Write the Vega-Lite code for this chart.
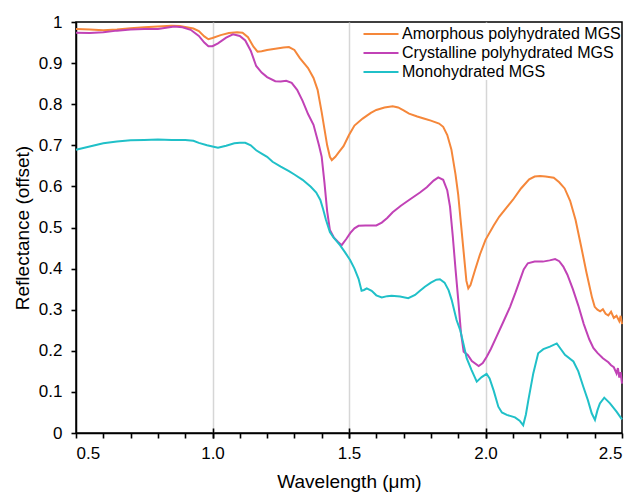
{
  "$schema": "https://vega.github.io/schema/vega-lite/v6.json",
  "width": 546,
  "height": 411,
  "autosize": "none",
  "padding": {"left": 76, "top": 22, "right": 21, "bottom": 61},
  "config": {
    "font": "Liberation Sans",
    "view": {"stroke": "black", "strokeWidth": 1.5},
    "axis": {
      "labelFont": "Liberation Sans",
      "titleFont": "Liberation Sans",
      "labelColor": "black",
      "titleColor": "black",
      "tickColor": "black",
      "domainColor": "black",
      "labelFontSize": 17,
      "titleFontSize": 19,
      "titleFontWeight": "normal"
    }
  },
  "data": {
    "values": [
      {"s":"Amorphous polyhydrated MGS","w":0.5,"r":0.983},
      {"s":"Amorphous polyhydrated MGS","w":0.55,"r":0.982},
      {"s":"Amorphous polyhydrated MGS","w":0.6,"r":0.98},
      {"s":"Amorphous polyhydrated MGS","w":0.65,"r":0.982},
      {"s":"Amorphous polyhydrated MGS","w":0.7,"r":0.985},
      {"s":"Amorphous polyhydrated MGS","w":0.75,"r":0.987},
      {"s":"Amorphous polyhydrated MGS","w":0.8,"r":0.989},
      {"s":"Amorphous polyhydrated MGS","w":0.85,"r":0.991},
      {"s":"Amorphous polyhydrated MGS","w":0.88,"r":0.99},
      {"s":"Amorphous polyhydrated MGS","w":0.9,"r":0.988},
      {"s":"Amorphous polyhydrated MGS","w":0.93,"r":0.984},
      {"s":"Amorphous polyhydrated MGS","w":0.95,"r":0.978},
      {"s":"Amorphous polyhydrated MGS","w":0.97,"r":0.965},
      {"s":"Amorphous polyhydrated MGS","w":0.985,"r":0.958},
      {"s":"Amorphous polyhydrated MGS","w":1.0,"r":0.961},
      {"s":"Amorphous polyhydrated MGS","w":1.03,"r":0.968},
      {"s":"Amorphous polyhydrated MGS","w":1.06,"r":0.973},
      {"s":"Amorphous polyhydrated MGS","w":1.09,"r":0.975},
      {"s":"Amorphous polyhydrated MGS","w":1.11,"r":0.974},
      {"s":"Amorphous polyhydrated MGS","w":1.13,"r":0.963},
      {"s":"Amorphous polyhydrated MGS","w":1.15,"r":0.94},
      {"s":"Amorphous polyhydrated MGS","w":1.165,"r":0.928},
      {"s":"Amorphous polyhydrated MGS","w":1.18,"r":0.929},
      {"s":"Amorphous polyhydrated MGS","w":1.2,"r":0.932},
      {"s":"Amorphous polyhydrated MGS","w":1.23,"r":0.935},
      {"s":"Amorphous polyhydrated MGS","w":1.26,"r":0.938},
      {"s":"Amorphous polyhydrated MGS","w":1.28,"r":0.939},
      {"s":"Amorphous polyhydrated MGS","w":1.3,"r":0.932},
      {"s":"Amorphous polyhydrated MGS","w":1.32,"r":0.912},
      {"s":"Amorphous polyhydrated MGS","w":1.35,"r":0.888},
      {"s":"Amorphous polyhydrated MGS","w":1.37,"r":0.864},
      {"s":"Amorphous polyhydrated MGS","w":1.385,"r":0.835},
      {"s":"Amorphous polyhydrated MGS","w":1.4,"r":0.78},
      {"s":"Amorphous polyhydrated MGS","w":1.41,"r":0.74},
      {"s":"Amorphous polyhydrated MGS","w":1.42,"r":0.7},
      {"s":"Amorphous polyhydrated MGS","w":1.43,"r":0.672},
      {"s":"Amorphous polyhydrated MGS","w":1.437,"r":0.664},
      {"s":"Amorphous polyhydrated MGS","w":1.45,"r":0.672},
      {"s":"Amorphous polyhydrated MGS","w":1.465,"r":0.685},
      {"s":"Amorphous polyhydrated MGS","w":1.48,"r":0.698},
      {"s":"Amorphous polyhydrated MGS","w":1.5,"r":0.725},
      {"s":"Amorphous polyhydrated MGS","w":1.52,"r":0.748},
      {"s":"Amorphous polyhydrated MGS","w":1.55,"r":0.765},
      {"s":"Amorphous polyhydrated MGS","w":1.58,"r":0.779},
      {"s":"Amorphous polyhydrated MGS","w":1.6,"r":0.786},
      {"s":"Amorphous polyhydrated MGS","w":1.63,"r":0.792},
      {"s":"Amorphous polyhydrated MGS","w":1.66,"r":0.795},
      {"s":"Amorphous polyhydrated MGS","w":1.68,"r":0.792},
      {"s":"Amorphous polyhydrated MGS","w":1.7,"r":0.785},
      {"s":"Amorphous polyhydrated MGS","w":1.72,"r":0.777},
      {"s":"Amorphous polyhydrated MGS","w":1.75,"r":0.77},
      {"s":"Amorphous polyhydrated MGS","w":1.78,"r":0.764},
      {"s":"Amorphous polyhydrated MGS","w":1.8,"r":0.76},
      {"s":"Amorphous polyhydrated MGS","w":1.83,"r":0.753},
      {"s":"Amorphous polyhydrated MGS","w":1.845,"r":0.745},
      {"s":"Amorphous polyhydrated MGS","w":1.86,"r":0.725},
      {"s":"Amorphous polyhydrated MGS","w":1.875,"r":0.69},
      {"s":"Amorphous polyhydrated MGS","w":1.89,"r":0.63},
      {"s":"Amorphous polyhydrated MGS","w":1.9,"r":0.58},
      {"s":"Amorphous polyhydrated MGS","w":1.91,"r":0.51},
      {"s":"Amorphous polyhydrated MGS","w":1.92,"r":0.44},
      {"s":"Amorphous polyhydrated MGS","w":1.93,"r":0.37},
      {"s":"Amorphous polyhydrated MGS","w":1.937,"r":0.352},
      {"s":"Amorphous polyhydrated MGS","w":1.945,"r":0.36},
      {"s":"Amorphous polyhydrated MGS","w":1.962,"r":0.397},
      {"s":"Amorphous polyhydrated MGS","w":1.98,"r":0.435},
      {"s":"Amorphous polyhydrated MGS","w":2.0,"r":0.47},
      {"s":"Amorphous polyhydrated MGS","w":2.03,"r":0.505},
      {"s":"Amorphous polyhydrated MGS","w":2.05,"r":0.526},
      {"s":"Amorphous polyhydrated MGS","w":2.08,"r":0.551},
      {"s":"Amorphous polyhydrated MGS","w":2.1,"r":0.567},
      {"s":"Amorphous polyhydrated MGS","w":2.13,"r":0.595},
      {"s":"Amorphous polyhydrated MGS","w":2.16,"r":0.617},
      {"s":"Amorphous polyhydrated MGS","w":2.18,"r":0.624},
      {"s":"Amorphous polyhydrated MGS","w":2.2,"r":0.625},
      {"s":"Amorphous polyhydrated MGS","w":2.22,"r":0.624},
      {"s":"Amorphous polyhydrated MGS","w":2.25,"r":0.621},
      {"s":"Amorphous polyhydrated MGS","w":2.27,"r":0.61},
      {"s":"Amorphous polyhydrated MGS","w":2.29,"r":0.595},
      {"s":"Amorphous polyhydrated MGS","w":2.31,"r":0.565},
      {"s":"Amorphous polyhydrated MGS","w":2.33,"r":0.518},
      {"s":"Amorphous polyhydrated MGS","w":2.35,"r":0.455},
      {"s":"Amorphous polyhydrated MGS","w":2.37,"r":0.39},
      {"s":"Amorphous polyhydrated MGS","w":2.39,"r":0.33},
      {"s":"Amorphous polyhydrated MGS","w":2.4,"r":0.307},
      {"s":"Amorphous polyhydrated MGS","w":2.41,"r":0.3},
      {"s":"Amorphous polyhydrated MGS","w":2.42,"r":0.296},
      {"s":"Amorphous polyhydrated MGS","w":2.43,"r":0.301},
      {"s":"Amorphous polyhydrated MGS","w":2.44,"r":0.29},
      {"s":"Amorphous polyhydrated MGS","w":2.45,"r":0.286},
      {"s":"Amorphous polyhydrated MGS","w":2.46,"r":0.295},
      {"s":"Amorphous polyhydrated MGS","w":2.47,"r":0.28},
      {"s":"Amorphous polyhydrated MGS","w":2.48,"r":0.285},
      {"s":"Amorphous polyhydrated MGS","w":2.49,"r":0.272},
      {"s":"Amorphous polyhydrated MGS","w":2.495,"r":0.285},
      {"s":"Amorphous polyhydrated MGS","w":2.5,"r":0.265},
      {"s":"Crystalline polyhydrated MGS","w":0.5,"r":0.974},
      {"s":"Crystalline polyhydrated MGS","w":0.55,"r":0.973},
      {"s":"Crystalline polyhydrated MGS","w":0.6,"r":0.975},
      {"s":"Crystalline polyhydrated MGS","w":0.65,"r":0.979},
      {"s":"Crystalline polyhydrated MGS","w":0.7,"r":0.982},
      {"s":"Crystalline polyhydrated MGS","w":0.75,"r":0.983},
      {"s":"Crystalline polyhydrated MGS","w":0.8,"r":0.983},
      {"s":"Crystalline polyhydrated MGS","w":0.83,"r":0.986},
      {"s":"Crystalline polyhydrated MGS","w":0.86,"r":0.989},
      {"s":"Crystalline polyhydrated MGS","w":0.89,"r":0.987},
      {"s":"Crystalline polyhydrated MGS","w":0.92,"r":0.981},
      {"s":"Crystalline polyhydrated MGS","w":0.95,"r":0.966},
      {"s":"Crystalline polyhydrated MGS","w":0.97,"r":0.95},
      {"s":"Crystalline polyhydrated MGS","w":0.985,"r":0.941},
      {"s":"Crystalline polyhydrated MGS","w":1.0,"r":0.941},
      {"s":"Crystalline polyhydrated MGS","w":1.02,"r":0.948},
      {"s":"Crystalline polyhydrated MGS","w":1.05,"r":0.962},
      {"s":"Crystalline polyhydrated MGS","w":1.075,"r":0.97},
      {"s":"Crystalline polyhydrated MGS","w":1.1,"r":0.966},
      {"s":"Crystalline polyhydrated MGS","w":1.12,"r":0.955},
      {"s":"Crystalline polyhydrated MGS","w":1.14,"r":0.93},
      {"s":"Crystalline polyhydrated MGS","w":1.16,"r":0.893},
      {"s":"Crystalline polyhydrated MGS","w":1.18,"r":0.877},
      {"s":"Crystalline polyhydrated MGS","w":1.2,"r":0.866},
      {"s":"Crystalline polyhydrated MGS","w":1.23,"r":0.856},
      {"s":"Crystalline polyhydrated MGS","w":1.25,"r":0.855},
      {"s":"Crystalline polyhydrated MGS","w":1.27,"r":0.857},
      {"s":"Crystalline polyhydrated MGS","w":1.29,"r":0.852},
      {"s":"Crystalline polyhydrated MGS","w":1.31,"r":0.835},
      {"s":"Crystalline polyhydrated MGS","w":1.33,"r":0.808},
      {"s":"Crystalline polyhydrated MGS","w":1.35,"r":0.776},
      {"s":"Crystalline polyhydrated MGS","w":1.37,"r":0.75},
      {"s":"Crystalline polyhydrated MGS","w":1.39,"r":0.7},
      {"s":"Crystalline polyhydrated MGS","w":1.4,"r":0.672},
      {"s":"Crystalline polyhydrated MGS","w":1.41,"r":0.61},
      {"s":"Crystalline polyhydrated MGS","w":1.42,"r":0.54},
      {"s":"Crystalline polyhydrated MGS","w":1.43,"r":0.494},
      {"s":"Crystalline polyhydrated MGS","w":1.445,"r":0.475},
      {"s":"Crystalline polyhydrated MGS","w":1.46,"r":0.465},
      {"s":"Crystalline polyhydrated MGS","w":1.473,"r":0.457},
      {"s":"Crystalline polyhydrated MGS","w":1.49,"r":0.472},
      {"s":"Crystalline polyhydrated MGS","w":1.505,"r":0.487},
      {"s":"Crystalline polyhydrated MGS","w":1.52,"r":0.498},
      {"s":"Crystalline polyhydrated MGS","w":1.535,"r":0.504},
      {"s":"Crystalline polyhydrated MGS","w":1.56,"r":0.505},
      {"s":"Crystalline polyhydrated MGS","w":1.6,"r":0.505},
      {"s":"Crystalline polyhydrated MGS","w":1.62,"r":0.512},
      {"s":"Crystalline polyhydrated MGS","w":1.64,"r":0.523},
      {"s":"Crystalline polyhydrated MGS","w":1.66,"r":0.537},
      {"s":"Crystalline polyhydrated MGS","w":1.69,"r":0.553},
      {"s":"Crystalline polyhydrated MGS","w":1.72,"r":0.567},
      {"s":"Crystalline polyhydrated MGS","w":1.74,"r":0.576},
      {"s":"Crystalline polyhydrated MGS","w":1.76,"r":0.585},
      {"s":"Crystalline polyhydrated MGS","w":1.785,"r":0.598},
      {"s":"Crystalline polyhydrated MGS","w":1.81,"r":0.614},
      {"s":"Crystalline polyhydrated MGS","w":1.827,"r":0.622},
      {"s":"Crystalline polyhydrated MGS","w":1.845,"r":0.616},
      {"s":"Crystalline polyhydrated MGS","w":1.86,"r":0.59},
      {"s":"Crystalline polyhydrated MGS","w":1.87,"r":0.551},
      {"s":"Crystalline polyhydrated MGS","w":1.88,"r":0.48},
      {"s":"Crystalline polyhydrated MGS","w":1.89,"r":0.4},
      {"s":"Crystalline polyhydrated MGS","w":1.9,"r":0.325},
      {"s":"Crystalline polyhydrated MGS","w":1.91,"r":0.245},
      {"s":"Crystalline polyhydrated MGS","w":1.92,"r":0.198},
      {"s":"Crystalline polyhydrated MGS","w":1.935,"r":0.19},
      {"s":"Crystalline polyhydrated MGS","w":1.95,"r":0.175},
      {"s":"Crystalline polyhydrated MGS","w":1.975,"r":0.163},
      {"s":"Crystalline polyhydrated MGS","w":1.99,"r":0.17},
      {"s":"Crystalline polyhydrated MGS","w":2.005,"r":0.186},
      {"s":"Crystalline polyhydrated MGS","w":2.02,"r":0.205},
      {"s":"Crystalline polyhydrated MGS","w":2.04,"r":0.234},
      {"s":"Crystalline polyhydrated MGS","w":2.065,"r":0.27},
      {"s":"Crystalline polyhydrated MGS","w":2.09,"r":0.307},
      {"s":"Crystalline polyhydrated MGS","w":2.11,"r":0.342},
      {"s":"Crystalline polyhydrated MGS","w":2.126,"r":0.372},
      {"s":"Crystalline polyhydrated MGS","w":2.14,"r":0.398},
      {"s":"Crystalline polyhydrated MGS","w":2.155,"r":0.413},
      {"s":"Crystalline polyhydrated MGS","w":2.18,"r":0.417},
      {"s":"Crystalline polyhydrated MGS","w":2.21,"r":0.417},
      {"s":"Crystalline polyhydrated MGS","w":2.235,"r":0.42},
      {"s":"Crystalline polyhydrated MGS","w":2.255,"r":0.423},
      {"s":"Crystalline polyhydrated MGS","w":2.27,"r":0.418},
      {"s":"Crystalline polyhydrated MGS","w":2.285,"r":0.405},
      {"s":"Crystalline polyhydrated MGS","w":2.3,"r":0.385},
      {"s":"Crystalline polyhydrated MGS","w":2.32,"r":0.35},
      {"s":"Crystalline polyhydrated MGS","w":2.34,"r":0.31},
      {"s":"Crystalline polyhydrated MGS","w":2.36,"r":0.265},
      {"s":"Crystalline polyhydrated MGS","w":2.38,"r":0.228},
      {"s":"Crystalline polyhydrated MGS","w":2.395,"r":0.207},
      {"s":"Crystalline polyhydrated MGS","w":2.41,"r":0.195},
      {"s":"Crystalline polyhydrated MGS","w":2.43,"r":0.182},
      {"s":"Crystalline polyhydrated MGS","w":2.45,"r":0.172},
      {"s":"Crystalline polyhydrated MGS","w":2.46,"r":0.165},
      {"s":"Crystalline polyhydrated MGS","w":2.47,"r":0.16},
      {"s":"Crystalline polyhydrated MGS","w":2.48,"r":0.145},
      {"s":"Crystalline polyhydrated MGS","w":2.485,"r":0.158},
      {"s":"Crystalline polyhydrated MGS","w":2.49,"r":0.135},
      {"s":"Crystalline polyhydrated MGS","w":2.495,"r":0.148},
      {"s":"Crystalline polyhydrated MGS","w":2.5,"r":0.12},
      {"s":"Monohydrated MGS","w":0.5,"r":0.689},
      {"s":"Monohydrated MGS","w":0.55,"r":0.697},
      {"s":"Monohydrated MGS","w":0.6,"r":0.705},
      {"s":"Monohydrated MGS","w":0.65,"r":0.709},
      {"s":"Monohydrated MGS","w":0.7,"r":0.712},
      {"s":"Monohydrated MGS","w":0.75,"r":0.713},
      {"s":"Monohydrated MGS","w":0.8,"r":0.714},
      {"s":"Monohydrated MGS","w":0.85,"r":0.713},
      {"s":"Monohydrated MGS","w":0.9,"r":0.713},
      {"s":"Monohydrated MGS","w":0.93,"r":0.711},
      {"s":"Monohydrated MGS","w":0.95,"r":0.706},
      {"s":"Monohydrated MGS","w":0.98,"r":0.7},
      {"s":"Monohydrated MGS","w":1.0,"r":0.697},
      {"s":"Monohydrated MGS","w":1.02,"r":0.694},
      {"s":"Monohydrated MGS","w":1.05,"r":0.699},
      {"s":"Monohydrated MGS","w":1.08,"r":0.705},
      {"s":"Monohydrated MGS","w":1.1,"r":0.706},
      {"s":"Monohydrated MGS","w":1.12,"r":0.706},
      {"s":"Monohydrated MGS","w":1.14,"r":0.7},
      {"s":"Monohydrated MGS","w":1.16,"r":0.688},
      {"s":"Monohydrated MGS","w":1.18,"r":0.68},
      {"s":"Monohydrated MGS","w":1.2,"r":0.672},
      {"s":"Monohydrated MGS","w":1.22,"r":0.66},
      {"s":"Monohydrated MGS","w":1.25,"r":0.648},
      {"s":"Monohydrated MGS","w":1.28,"r":0.637},
      {"s":"Monohydrated MGS","w":1.3,"r":0.629},
      {"s":"Monohydrated MGS","w":1.33,"r":0.616},
      {"s":"Monohydrated MGS","w":1.36,"r":0.599},
      {"s":"Monohydrated MGS","w":1.38,"r":0.585},
      {"s":"Monohydrated MGS","w":1.395,"r":0.567},
      {"s":"Monohydrated MGS","w":1.405,"r":0.545},
      {"s":"Monohydrated MGS","w":1.415,"r":0.52},
      {"s":"Monohydrated MGS","w":1.43,"r":0.489},
      {"s":"Monohydrated MGS","w":1.443,"r":0.476},
      {"s":"Monohydrated MGS","w":1.467,"r":0.457},
      {"s":"Monohydrated MGS","w":1.485,"r":0.44},
      {"s":"Monohydrated MGS","w":1.504,"r":0.421},
      {"s":"Monohydrated MGS","w":1.52,"r":0.4},
      {"s":"Monohydrated MGS","w":1.535,"r":0.375},
      {"s":"Monohydrated MGS","w":1.546,"r":0.346},
      {"s":"Monohydrated MGS","w":1.555,"r":0.348},
      {"s":"Monohydrated MGS","w":1.565,"r":0.352},
      {"s":"Monohydrated MGS","w":1.583,"r":0.346},
      {"s":"Monohydrated MGS","w":1.6,"r":0.335},
      {"s":"Monohydrated MGS","w":1.62,"r":0.33},
      {"s":"Monohydrated MGS","w":1.64,"r":0.333},
      {"s":"Monohydrated MGS","w":1.656,"r":0.334},
      {"s":"Monohydrated MGS","w":1.687,"r":0.332},
      {"s":"Monohydrated MGS","w":1.717,"r":0.328},
      {"s":"Monohydrated MGS","w":1.742,"r":0.336},
      {"s":"Monohydrated MGS","w":1.76,"r":0.346},
      {"s":"Monohydrated MGS","w":1.778,"r":0.356},
      {"s":"Monohydrated MGS","w":1.8,"r":0.366},
      {"s":"Monohydrated MGS","w":1.82,"r":0.373},
      {"s":"Monohydrated MGS","w":1.833,"r":0.374},
      {"s":"Monohydrated MGS","w":1.85,"r":0.366},
      {"s":"Monohydrated MGS","w":1.865,"r":0.347},
      {"s":"Monohydrated MGS","w":1.876,"r":0.324},
      {"s":"Monohydrated MGS","w":1.894,"r":0.275},
      {"s":"Monohydrated MGS","w":1.907,"r":0.251},
      {"s":"Monohydrated MGS","w":1.92,"r":0.215},
      {"s":"Monohydrated MGS","w":1.931,"r":0.182},
      {"s":"Monohydrated MGS","w":1.949,"r":0.153},
      {"s":"Monohydrated MGS","w":1.968,"r":0.125},
      {"s":"Monohydrated MGS","w":1.986,"r":0.136},
      {"s":"Monohydrated MGS","w":2.004,"r":0.144},
      {"s":"Monohydrated MGS","w":2.015,"r":0.133},
      {"s":"Monohydrated MGS","w":2.03,"r":0.103},
      {"s":"Monohydrated MGS","w":2.047,"r":0.064},
      {"s":"Monohydrated MGS","w":2.06,"r":0.05},
      {"s":"Monohydrated MGS","w":2.078,"r":0.044},
      {"s":"Monohydrated MGS","w":2.108,"r":0.038},
      {"s":"Monohydrated MGS","w":2.125,"r":0.03},
      {"s":"Monohydrated MGS","w":2.138,"r":0.019},
      {"s":"Monohydrated MGS","w":2.148,"r":0.045},
      {"s":"Monohydrated MGS","w":2.157,"r":0.08},
      {"s":"Monohydrated MGS","w":2.175,"r":0.145},
      {"s":"Monohydrated MGS","w":2.193,"r":0.194},
      {"s":"Monohydrated MGS","w":2.212,"r":0.204},
      {"s":"Monohydrated MGS","w":2.236,"r":0.21},
      {"s":"Monohydrated MGS","w":2.261,"r":0.218},
      {"s":"Monohydrated MGS","w":2.275,"r":0.205},
      {"s":"Monohydrated MGS","w":2.291,"r":0.19},
      {"s":"Monohydrated MGS","w":2.322,"r":0.174},
      {"s":"Monohydrated MGS","w":2.34,"r":0.15},
      {"s":"Monohydrated MGS","w":2.358,"r":0.113},
      {"s":"Monohydrated MGS","w":2.375,"r":0.08},
      {"s":"Monohydrated MGS","w":2.389,"r":0.048},
      {"s":"Monohydrated MGS","w":2.401,"r":0.032},
      {"s":"Monohydrated MGS","w":2.41,"r":0.055},
      {"s":"Monohydrated MGS","w":2.419,"r":0.072},
      {"s":"Monohydrated MGS","w":2.435,"r":0.086},
      {"s":"Monohydrated MGS","w":2.456,"r":0.072},
      {"s":"Monohydrated MGS","w":2.48,"r":0.052},
      {"s":"Monohydrated MGS","w":2.5,"r":0.033}
    ]
  },
  "resolve": {"axis": {"x": "independent"}},
  "layer": [
    {
      "mark": {"type": "point", "opacity": 0, "size": 1},
      "encoding": {
        "x": {"field": "w", "type": "quantitative", "scale": {"domain": [0.5, 2.5], "nice": false, "zero": false},
          "axis": {"orient": "bottom", "values": [1.0, 1.5, 2.0], "grid": true, "gridColor": "#d6d6d6", "gridWidth": 1.5, "ticks": false, "labels": false, "domain": false, "title": null}},
        "y": {"field": "r", "type": "quantitative"}
      }
    },
    {
      "mark": {"type": "point", "opacity": 0, "size": 1},
      "encoding": {
        "x": {"field": "w", "type": "quantitative",
          "axis": {"orient": "bottom", "values": [0.5, 0.6, 0.7, 0.8, 0.9, 1.0, 1.1, 1.2, 1.3, 1.4, 1.5, 1.6, 1.7, 1.8, 1.9, 2.0, 2.1, 2.2, 2.3, 2.4, 2.5], "grid": false, "ticks": true, "tickSize": 5, "tickWidth": 1.6, "tickColor": "black", "labels": false, "domain": true, "domainWidth": 1.5, "title": null}},
        "y": {"field": "r", "type": "quantitative"}
      }
    },
    {
      "mark": {"type": "point", "opacity": 0, "size": 1},
      "encoding": {
        "x": {"field": "w", "type": "quantitative",
          "axis": {"orient": "bottom", "values": [1.0, 1.5, 2.0], "offset": -5, "grid": false, "ticks": true, "tickSize": 10, "tickWidth": 1.6, "tickColor": "black", "labels": false, "domain": false, "title": null}},
        "y": {"field": "r", "type": "quantitative"}
      }
    },
    {
      "mark": {"type": "line", "strokeWidth": 2},
      "encoding": {
        "x": {"field": "w", "type": "quantitative",
          "axis": {"orient": "bottom", "values": [0.5, 1.0, 1.5, 2.0, 2.5], "format": ".1f", "grid": false, "ticks": false, "domain": false, "labelPadding": 12, "title": "Wavelength (μm)", "titlePadding": 11}},
        "y": {"field": "r", "type": "quantitative", "scale": {"domain": [0, 1], "nice": false, "zero": false},
          "axis": {"values": [0, 0.1, 0.2, 0.3, 0.4, 0.5, 0.6, 0.7, 0.8, 0.9, 1], "format": "~g", "grid": false, "ticks": true, "tickSize": 5, "tickWidth": 1.6, "tickColor": "black", "domainWidth": 1.5, "labelPadding": 9, "title": "Reflectance (offset)", "titlePadding": 6}},
        "color": {"field": "s", "type": "nominal",
          "scale": {"domain": ["Amorphous polyhydrated MGS", "Crystalline polyhydrated MGS", "Monohydrated MGS"], "range": ["#F5873A", "#C142B6", "#20C0C8"]},
          "legend": {"title": null, "orient": "top-right", "offset": 1, "padding": 0, "fillColor": "white", "labelFontSize": 16, "labelFont": "Liberation Sans", "labelColor": "black", "labelLimit": 400, "symbolType": "M-1.75,0H1.75", "symbolSize": 400, "symbolStrokeWidth": 2, "labelOffset": 10, "rowPadding": 0}},
        "order": {"field": "w", "type": "quantitative"}
      }
    }
  ]
}
